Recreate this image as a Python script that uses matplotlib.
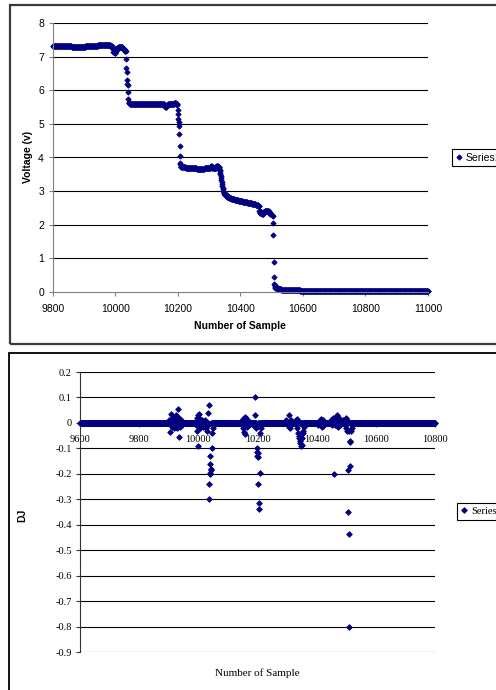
import numpy as np
import matplotlib.pyplot as plt
from matplotlib.patches import Rectangle

W, H = 496, 690

# voltage trace, run-length coded: level and number of consecutive samples
volt_start = 9800
volt_levels = [7.32, 7.30, 7.28, 7.32, 7.34, 7.36, 7.33,
               7.25, 7.15, 7.10, 7.18,
               7.25, 7.30, 7.28, 7.22, 7.18,
               6.93, 6.65, 6.55, 6.30, 6.20, 6.15, 5.95, 5.75, 5.65,
               5.62, 5.60,
               5.55, 5.50, 5.55, 5.60, 5.63, 5.60,
               5.55, 5.40, 5.30, 5.15, 5.05, 4.95, 4.70, 4.35, 4.05, 3.85, 3.80, 3.75,
               3.72, 3.70, 3.67, 3.70, 3.75, 3.70, 3.74, 3.72,
               3.68, 3.64, 3.60, 3.55, 3.50, 3.45, 3.40, 3.34, 3.28, 3.22, 3.16, 3.10,
               3.05, 3.00, 2.96, 2.93,
               2.90, 2.87, 2.84, 2.80, 2.77, 2.74, 2.70, 2.67, 2.64, 2.62, 2.60,
               2.55, 2.40, 2.35, 2.32, 2.38, 2.42, 2.40, 2.36, 2.32, 2.28,
               2.25, 2.05, 1.70, 0.88, 0.45, 0.25, 0.22, 0.18, 0.15, 0.13,
               0.11, 0.09, 0.07, 0.05,
               0.03]
volt_counts = [60, 40, 4, 40, 30, 10, 6,
               3, 4, 3, 4,
               5, 8, 6, 6, 5,
               1, 1, 1, 1, 1, 1, 1, 1, 1,
               3, 110,
               4, 4, 4, 20, 6, 4,
               1, 1, 1, 1, 1, 1, 1, 1, 1, 1, 1, 1,
               15, 35, 25, 20, 4, 14, 5, 4,
               1, 1, 1, 1, 1, 1, 1, 1, 1, 1, 1, 1,
               1, 1, 1, 1,
               4, 5, 6, 8, 10, 12, 14, 15, 15, 12, 8,
               3, 3, 6, 4, 4, 8, 6, 5, 4, 3,
               1, 1, 1, 1, 1, 1, 1, 1, 1, 1,
               8, 10, 20, 40,
               410]

# DJ series: zero everywhere except these samples
dj_start = 9600
dj_length = 1201
dj_samples = [9902, 9905, 9908, 9911, 9913, 9916, 9918, 9921, 9923, 9926, 9928, 9930,
              9932, 9934, 9936, 9938, 9941, 9944, 9948,
              9992, 9995, 9997, 9999, 10000, 10002, 10004, 10006, 10009, 10013, 10017,
              10021, 10025, 10029, 10032, 10034, 10035, 10036, 10037, 10038, 10039,
              10040, 10041, 10042, 10043, 10045, 10047, 10049, 10052,
              10148, 10151, 10153, 10155, 10157, 10159, 10161, 10163, 10166, 10170,
              10175, 10185, 10190, 10193, 10195, 10197, 10198, 10199, 10200, 10201,
              10203, 10204, 10205, 10207, 10209, 10211,
              10298, 10302, 10305, 10308, 10310, 10313,
              10330, 10333, 10335, 10337, 10339, 10341, 10343, 10345, 10347, 10349,
              10351, 10353, 10355, 10357, 10360,
              10405, 10410, 10414, 10418, 10422, 10426,
              10448, 10452, 10455, 10458, 10460, 10463, 10466, 10470, 10472, 10475,
              10478, 10490, 10495, 10498, 10500, 10502, 10504, 10506, 10507, 10508,
              10509, 10510, 10511, 10512, 10514, 10516, 10518, 10521]
dj_values = [0.01, -0.035, 0.035, -0.015, 0.02, 0.025, -0.02, 0.015, -0.01, 0.03, -0.02, 0.01,
             0.055, -0.055, 0.02, -0.015, 0.01, -0.01, 0.005,
             -0.01, 0.02, -0.03, 0.03, -0.09, 0.035, -0.02, 0.015, -0.01, 0.01, -0.015,
             0.01, -0.02, -0.03, 0.04, -0.01, 0.07, -0.24, -0.3, -0.13, -0.2,
             -0.195, -0.16, -0.185, -0.18, -0.1, -0.04, -0.02, -0.01,
             0.01, -0.02, 0.02, -0.035, 0.025, -0.045, 0.02, -0.015, 0.01, -0.01,
             0.005, -0.01, 0.03, 0.1, -0.02, -0.1, -0.115, -0.13, -0.135, -0.12,
             -0.24, -0.315, -0.34, -0.195, -0.04, -0.02,
             0.01, -0.01, 0.03, -0.015, -0.02, 0.01,
             0.01, 0.015, -0.02, -0.04, -0.05, -0.06, -0.07, -0.08, -0.09, -0.085,
             -0.06, -0.04, -0.03, -0.015, -0.01,
             -0.01, 0.01, 0.015, -0.015, 0.01, -0.01,
             0.01, -0.01, 0.02, 0.015, -0.2, -0.01, 0.02, 0.03, -0.015, 0.02,
             -0.01, 0.01, -0.01, 0.02, -0.02, -0.03, 0.01, -0.185, -0.35, -0.03,
             -0.8, -0.435, -0.17, -0.075, -0.07, -0.03, -0.02, -0.01]

volt_xticks = [9800, 10000, 10200, 10400, 10600, 10800, 11000]
volt_yticks = [0, 1, 2, 3, 4, 5, 6, 7, 8]
dj_xticks = [9600, 9800, 10000, 10200, 10400, 10600, 10800]
dj_yticks = [0.2, 0.1, 0, -0.1, -0.2, -0.3, -0.4, -0.5, -0.6, -0.7, -0.8, -0.9]

volt = np.repeat(volt_levels, volt_counts)
volt_x = volt_start + np.arange(volt.size)
dj = np.zeros(dj_length)
dj[np.array(dj_samples) - dj_start] = dj_values
dj_x = dj_start + np.arange(dj_length)

navy = '#000080'
sans = 'Liberation Sans'
serif = 'Liberation Serif'


def fx(px):
    return px / W


def fy(py):
    return 1 - py / H


def box(x0, y0, x1, y1):
    return [fx(x0), fy(y1), fx(x1) - fx(x0), fy(y0) - fy(y1)]


fig = plt.figure(figsize=(W / 100, H / 100), dpi=100)
fig.patch.set_facecolor('white')

# outer chart frames
fig.add_artist(Rectangle((fx(10), fy(344)), 2, fy(5) - fy(344), transform=fig.transFigure,
                         fill=False, edgecolor='#3a3a3a', linewidth=1.6))
fig.add_artist(Rectangle((fx(9), -0.2), 2, fy(353) + 0.2, transform=fig.transFigure,
                         fill=False, edgecolor='black', linewidth=1.3))

# --- voltage ---
ax1 = fig.add_axes(box(53, 23, 428, 292))
ax1.plot(volt_x, volt, linestyle='none', marker='D', markersize=2.7,
         markerfacecolor=navy, markeredgecolor=navy, markeredgewidth=0.6,
         label='Series1', clip_on=False)
ax1.set_xlim(9800, 11000)
ax1.set_ylim(0, 8)
ax1.set_xticks(volt_xticks)
ax1.set_yticks(volt_yticks)
ax1.set_yticklabels([str(v) for v in volt_yticks])
for v in volt_yticks[1:]:
    ax1.axhline(v, color='black', linewidth=0.8, zorder=0)
for s in ['top', 'right']:
    ax1.spines[s].set_visible(False)
for s in ['left', 'bottom']:
    ax1.spines[s].set_color('#808080')
    ax1.spines[s].set_linewidth(0.8)
ax1.tick_params(axis='both', direction='out', length=3, width=0.8, color='#808080',
                labelsize=7.5)
ax1.tick_params(axis='x', pad=5.5)
ax1.tick_params(axis='y', pad=3.5)
for lab in ax1.get_xticklabels() + ax1.get_yticklabels():
    lab.set_family(sans)
fig.text(fx(240), fy(326), 'Number of Sample', ha='center', va='center',
         family=sans, fontweight='bold', fontsize=7.5)
fig.text(fx(28), fy(157), 'Voltage (v)', ha='center', va='center', rotation=90,
         family=sans, fontweight='bold', fontsize=7.5)
fig.legend(*ax1.get_legend_handles_labels(), loc='upper left',
           bbox_to_anchor=(fx(452), fy(149)), bbox_transform=fig.transFigure,
           frameon=True, fancybox=False, edgecolor='black', framealpha=1,
           prop={'family': sans, 'size': 7.5}, handlelength=0.6, handletextpad=0.4,
           borderpad=0.35, borderaxespad=0).get_frame().set_linewidth(0.8)

# --- DJ ---
ax2 = fig.add_axes(box(80, 372, 435, 652))
ax2.plot(dj_x, dj, linestyle='none', marker='D', markersize=2.9,
         markerfacecolor=navy, markeredgecolor=navy, markeredgewidth=0.6,
         label='Series1', clip_on=False, zorder=3)
ax2.set_xlim(9600, 10800)
ax2.set_ylim(-0.9, 0.2)
ax2.set_xticks(dj_xticks)
ax2.set_yticks(dj_yticks)
ax2.set_yticklabels(['0' if v == 0 else f'{v:.1f}' for v in dj_yticks])
for v in dj_yticks:
    ax2.axhline(v, color='black', linewidth=0.8, zorder=0)
ax2.spines['bottom'].set_position(('data', 0))
for s in ['top', 'right']:
    ax2.spines[s].set_visible(False)
for s in ['left', 'bottom']:
    ax2.spines[s].set_color('#333333')
    ax2.spines[s].set_linewidth(0.8)
ax2.tick_params(axis='both', direction='out', length=3, width=0.8, color='#333333',
                labelsize=7.5)
ax2.tick_params(axis='x', pad=6)
ax2.tick_params(axis='y', pad=3)
for lab in ax2.get_xticklabels() + ax2.get_yticklabels():
    lab.set_family(serif)
fig.text(fx(257), fy(673), 'Number of Sample', ha='center', va='center',
         family=serif, fontsize=8)
fig.text(fx(22), fy(515), 'DJ', ha='center', va='center', rotation=90,
         family=sans, fontweight='bold', fontsize=7.5)
fig.legend(*ax2.get_legend_handles_labels(), loc='upper left',
           bbox_to_anchor=(fx(457), fy(503)), bbox_transform=fig.transFigure,
           frameon=True, fancybox=False, edgecolor='black', framealpha=1,
           prop={'family': serif, 'size': 7.5}, handlelength=0.6, handletextpad=0.4,
           borderpad=0.35, borderaxespad=0).get_frame().set_linewidth(0.8)

fig.savefig('out.png', dpi=100)
